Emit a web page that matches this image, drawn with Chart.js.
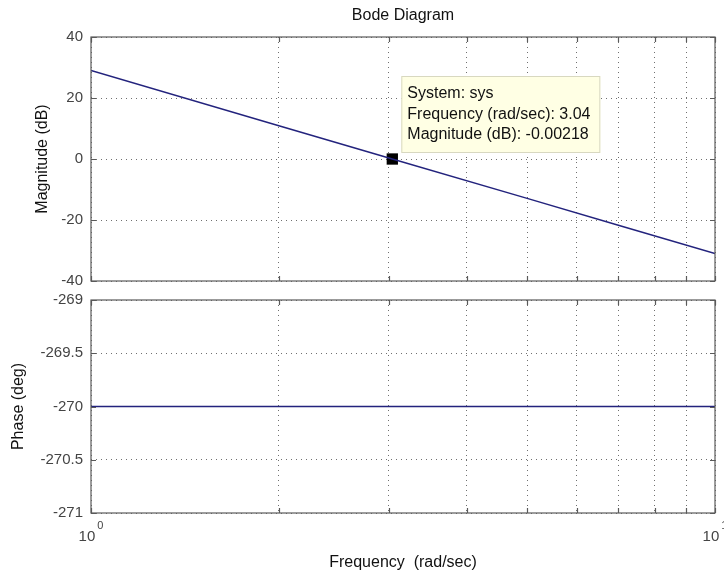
<!DOCTYPE html>
<html><head><meta charset="utf-8">
<script src="https://cdn.jsdelivr.net/npm/chart.js@4"></script>
<style>
html,body{margin:0;padding:0;background:#fff;}
#wrap{position:relative;width:724px;height:573px;background:#fff;}
canvas{position:absolute;left:0;top:0;}
</style></head><body>
<div id="wrap"><canvas id="mag" width="724" height="573"></canvas><canvas id="ph" width="724" height="573"></canvas></div>
<script>
// ---- data ----
const freq = [1, 2, 3.04, 5, 7, 10];
const magnitudeDb = [29, 10.9, 0, -12.9, -21.7, -31];
const phaseFreq = [1, 10];
const phaseDeg = [-270, -270];
const markerFreq = [3.04];
const markerMag = [-0.00218];
const xTicks = [1, 2, 3, 4, 5, 6, 7, 8, 9, 10];
const xTickLabels = { 1: ['10', '0'], 10: ['10', '1'] };
const magTicks = [-40, -20, 0, 20, 40];
const phaseTicks = [-271, -270.5, -270, -269.5, -269];
const tipLines = ['System: sys', 'Frequency (rad/sec): 3.04', 'Magnitude (dB): -0.00218'];
const chartTitle = 'Bode Diagram';
const magLabel = 'Magnitude (dB)';
const phaseLabel = 'Phase (deg)';
const freqLabel = 'Frequency  (rad/sec)';

const FONT = '"Liberation Sans", Arial, Helvetica, sans-serif';
const LINE = '#23237d';
const GRID = '#707070';
const FRAME = '#5a5a5a';
const LEFT = 91, RIGHT = 715;

function frame(chart, yTicks) {
  const ctx = chart.ctx, a = chart.chartArea;
  const xs = chart.scales.x, ys = chart.scales.y;
  ctx.save();
  ctx.strokeStyle = FRAME; ctx.lineWidth = 1.2;
  ctx.strokeRect(a.left, a.top, a.right - a.left, a.bottom - a.top);
  ctx.beginPath();
  xTicks.forEach(v => {
    const px = Math.round(xs.getPixelForValue(v)) + 0.5;
    ctx.moveTo(px, a.bottom); ctx.lineTo(px, a.bottom - 5);
    ctx.moveTo(px, a.top); ctx.lineTo(px, a.top + 5);
  });
  yTicks.forEach(v => {
    const py = Math.round(ys.getPixelForValue(v)) + 0.5;
    ctx.moveTo(a.left, py); ctx.lineTo(a.left + 5, py);
    ctx.moveTo(a.right, py); ctx.lineTo(a.right - 5, py);
  });
  ctx.stroke();
  ctx.restore();
}

function xScale(showLabels) {
  return {
    type: 'logarithmic', min: 1, max: 10,
    afterBuildTicks: s => { s.ticks = xTicks.map(v => ({ value: v })); },
    afterFit: s => { s.height = 0; },
    ticks: { display: false },
    grid: { color: GRID, lineWidth: 1, drawTicks: false, tickLength: 0 },
    border: { display: false, dash: [1, 4] }
  };
}
function yScale(ticksArr, min, max, fmt) {
  return {
    type: 'linear', min: min, max: max,
    afterBuildTicks: s => { s.ticks = ticksArr.map(v => ({ value: v })); },
    afterFit: s => { s.width = LEFT; },
    ticks: { color: '#444', font: { family: FONT, size: 15 }, padding: 8, callback: fmt },
    grid: { color: GRID, lineWidth: 1, drawTicks: false, tickLength: 0 },
    border: { display: false, dash: [1, 4] }
  };
}

const magPlugin = {
  id: 'magDecor',
  afterDraw(chart) {
    frame(chart, magTicks);
    const ctx = chart.ctx;
    ctx.save();
    ctx.fillStyle = '#111';
    ctx.font = '16px ' + FONT;
    ctx.textAlign = 'center'; ctx.textBaseline = 'middle';
    ctx.fillText(chartTitle, (LEFT + RIGHT) / 2, 16);
    ctx.translate(43, (chart.chartArea.top + chart.chartArea.bottom) / 2);
    ctx.rotate(-Math.PI / 2);
    ctx.fillText(magLabel, 0, 0);
    ctx.restore();
    // data tip
    const pt = chart.getDatasetMeta(1).data[0];
    const bx = pt.x + 9, bw = 199, bh = 77, by = pt.y - 6 - bh;
    ctx.save();
    ctx.fillStyle = '#ffffe4';
    ctx.fillRect(bx, by, bw, bh);
    ctx.strokeStyle = '#d8d8c0'; ctx.lineWidth = 1;
    ctx.strokeRect(bx + 0.5, by + 0.5, bw - 1, bh - 1);
    ctx.fillStyle = '#111';
    ctx.font = '16px ' + FONT;
    ctx.textAlign = 'left'; ctx.textBaseline = 'middle';
    tipLines.forEach((t, i) => ctx.fillText(t, bx + 6, by + 18 + i * 20.5));
    ctx.restore();
  }
};

const phPlugin = {
  id: 'phDecor',
  afterDraw(chart) {
    frame(chart, phaseTicks);
    const ctx = chart.ctx, a = chart.chartArea, xs = chart.scales.x;
    ctx.save();
    ctx.fillStyle = '#444';
    xTicks.forEach(v => {
      const lab = xTickLabels[v];
      if (!lab) return;
      const px = xs.getPixelForValue(v);
      ctx.font = '15px ' + FONT;
      const w1 = ctx.measureText(lab[0]).width;
      ctx.font = '11px ' + FONT;
      const w2 = ctx.measureText(lab[1]).width;
      const x0 = px - (w1 + w2 + 2) / 2;
      ctx.textAlign = 'left'; ctx.textBaseline = 'middle';
      ctx.font = '15px ' + FONT;
      ctx.fillText(lab[0], x0, a.bottom + 24);
      ctx.font = '11px ' + FONT;
      ctx.fillText(lab[1], x0 + w1 + 2, a.bottom + 13);
    });
    ctx.fillStyle = '#111';
    ctx.font = '16px ' + FONT;
    ctx.textAlign = 'center'; ctx.textBaseline = 'middle';
    ctx.fillText(freqLabel, (LEFT + RIGHT) / 2, 563);
    ctx.translate(19, (a.top + a.bottom) / 2);
    ctx.rotate(-Math.PI / 2);
    ctx.fillText(phaseLabel, 0, 0);
    ctx.restore();
  }
};

const common = {
  responsive: false, animation: false, devicePixelRatio: 1,
  plugins: { legend: { display: false }, tooltip: { enabled: false }, title: { display: false } },
  elements: { line: { tension: 0 } }
};

new Chart(document.getElementById('mag'), {
  type: 'line',
  data: {
    datasets: [
      { data: freq.map((f, i) => ({ x: f, y: magnitudeDb[i] })), borderColor: LINE, borderWidth: 1.5, pointRadius: 0 },
      { data: markerFreq.map((f, i) => ({ x: f, y: markerMag[i] })), showLine: false, pointStyle: 'rect', pointRadius: 8, backgroundColor: '#000', borderColor: '#000', borderWidth: 0 }
    ]
  },
  options: Object.assign({}, common, {
    layout: { padding: { top: 37, bottom: 573 - 281, left: 0, right: 724 - RIGHT } },
    scales: {
      x: xScale(false),
      y: yScale(magTicks, -40, 40, v => String(v))
    }
  }),
  plugins: [magPlugin]
});

new Chart(document.getElementById('ph'), {
  type: 'line',
  data: {
    datasets: [
      { data: phaseFreq.map((f, i) => ({ x: f, y: phaseDeg[i] })), borderColor: LINE, borderWidth: 1.5, pointRadius: 0 }
    ]
  },
  options: Object.assign({}, common, {
    layout: { padding: { top: 300, bottom: 573 - 513, left: 0, right: 724 - RIGHT } },
    scales: {
      x: xScale(true),
      y: yScale(phaseTicks, -271, -269, v => String(v))
    }
  }),
  plugins: [phPlugin]
});
</script>
</body></html>
